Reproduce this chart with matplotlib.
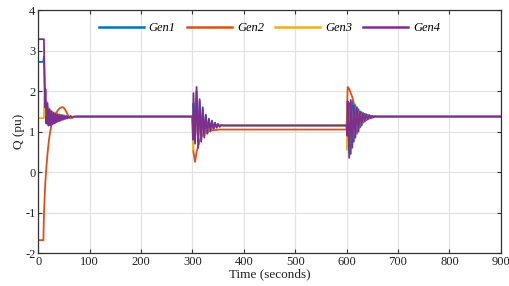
import matplotlib

matplotlib.use("Agg")
import matplotlib.pyplot as plt  # noqa: E402

# time points (s)
time_s = [
    0, 10, 11, 12, 13, 14, 16, 18, 20, 22, 24, 26, 28, 30, 32, 34, 36, 38, 40, 42,
    44, 46, 48, 50, 52, 54, 56, 58, 60, 63, 66, 70, 75, 80, 90,
    300, 301, 302, 305, 308, 311, 314, 317, 320, 323, 326, 329, 332, 335, 338,
    341, 344, 347, 350, 353, 356, 360, 370, 385,
    600, 601, 602, 605, 608, 611, 614, 617, 620, 623, 626, 629, 632, 635, 638,
    641, 644, 647, 650, 653, 656, 660, 670, 685, 900,
]

gen1 = [
    2.72, 2.72, 2.85, 2.4, 1.8, 1.45, 1.2, 1.6, 1.15, 1.55, 1.18, 1.5, 1.2, 1.47, 1.22, 1.45, 1.25, 1.43, 1.27, 1.42,
    1.29, 1.41, 1.31, 1.40, 1.32, 1.39, 1.33, 1.38, 1.34, 1.38, 1.35, 1.37, 1.37, 1.37, 1.37,
    1.37, 1.1, 1.7, 0.8, 2.0, 0.75, 1.75, 0.8, 1.6, 0.9, 1.42, 0.95, 1.32, 1.0, 1.27,
    1.06, 1.22, 1.1, 1.19, 1.12, 1.16, 1.15, 1.15, 1.15,
    1.15, 1.4, 0.6, 1.7, 0.45, 1.75, 0.75, 1.65, 0.95, 1.55, 1.1, 1.48, 1.22, 1.44, 1.28,
    1.41, 1.32, 1.39, 1.34, 1.38, 1.36, 1.37, 1.37, 1.37, 1.37,
]

gen2 = [
    -1.68, -1.68, -1.1, -0.75, -0.45, -0.2, 0.15, 0.45, 0.7, 0.9, 1.05, 1.18, 1.27, 1.33, 1.38, 1.43, 1.48, 1.52, 1.55, 1.58,
    1.59, 1.6, 1.6, 1.58, 1.55, 1.5, 1.45, 1.4, 1.36, 1.33, 1.34, 1.36, 1.37, 1.37, 1.37,
    1.37, 0.9, 0.5, 0.25, 0.5, 0.62, 0.78, 0.86, 0.92, 0.95, 0.98, 0.99, 1.01, 1.02, 1.03,
    1.03, 1.04, 1.04, 1.05, 1.05, 1.05, 1.05, 1.05, 1.05,
    1.05, 1.6, 2.1, 2.05, 1.95, 1.85, 1.7, 1.6, 1.52, 1.47, 1.44, 1.42, 1.4, 1.39, 1.38,
    1.38, 1.37, 1.37, 1.37, 1.37, 1.37, 1.37, 1.37, 1.37, 1.37,
]

gen3 = [
    1.33, 1.33, 1.33, 1.85, 1.9, 1.4, 1.75, 1.2, 1.6, 1.2, 1.52, 1.22, 1.48, 1.25, 1.45, 1.27, 1.43, 1.29, 1.42, 1.3,
    1.41, 1.31, 1.40, 1.32, 1.39, 1.33, 1.38, 1.34, 1.37, 1.35, 1.37, 1.36, 1.37, 1.37, 1.37,
    1.37, 0.55, 1.3, 0.85, 1.7, 0.8, 1.5, 0.85, 1.4, 0.92, 1.3, 0.98, 1.25, 1.03, 1.2,
    1.07, 1.18, 1.1, 1.17, 1.12, 1.15, 1.15, 1.15, 1.15,
    1.15, 0.55, 1.5, 0.65, 1.6, 0.8, 1.55, 0.95, 1.5, 1.05, 1.46, 1.15, 1.43, 1.23, 1.41,
    1.29, 1.39, 1.32, 1.38, 1.35, 1.37, 1.37, 1.37, 1.37, 1.37,
]

gen4 = [
    3.28, 3.28, 3.28, 2.6, 1.6, 2.05, 1.2, 1.7, 1.15, 1.55, 1.15, 1.5, 1.18, 1.46, 1.2, 1.44, 1.23, 1.42, 1.25, 1.41,
    1.27, 1.4, 1.29, 1.39, 1.31, 1.38, 1.32, 1.38, 1.34, 1.38, 1.35, 1.37, 1.37, 1.37, 1.37,
    1.37, 0.8, 1.95, 0.7, 2.1, 0.6, 1.8, 0.75, 1.55, 0.85, 1.4, 0.95, 1.3, 1.02, 1.25,
    1.07, 1.21, 1.1, 1.18, 1.12, 1.16, 1.15, 1.15, 1.15,
    1.15, 0.9, 1.75, 0.35, 1.78, 0.6, 1.65, 0.85, 1.6, 1.0, 1.5, 1.15, 1.46, 1.25, 1.43,
    1.3, 1.41, 1.33, 1.39, 1.35, 1.38, 1.37, 1.37, 1.37, 1.37,
]

series = [("Gen1", gen1), ("Gen2", gen2), ("Gen3", gen3), ("Gen4", gen4)]
colors = ["#0072BD", "#D95319", "#EDB120", "#7E2F8E"]

plt.rcParams["font.family"] = ["Liberation Serif", "DejaVu Serif"]
plt.rcParams["axes.unicode_minus"] = False

fig = plt.figure(figsize=(5.1, 2.86), dpi=100)
ax = fig.add_axes([0.075, 0.115, 0.907, 0.85])

for (name, vals), c in zip(series, colors):
    ax.plot(time_s, vals, color=c, lw=1.3, label=name)

ax.set_xlim(0, 900)
ax.set_ylim(-2, 4)
ax.set_xticks(range(0, 901, 100))
ax.set_yticks(range(-2, 5))
ax.grid(True, color="#e3e3e3", lw=0.9)
ax.set_axisbelow(True)
ax.tick_params(direction="in", top=True, right=True, labelsize=9, length=3,
               color="#333333", labelcolor="#222222", pad=2)
for sp in ax.spines.values():
    sp.set_color("#333333")
    sp.set_linewidth(0.9)

ax.set_xlabel("Time (seconds)", fontsize=9.5, labelpad=0, color="#222222")
ax.set_ylabel("Q (pu)", fontsize=9.5, labelpad=0, color="#222222")

leg = ax.legend(loc="upper center", bbox_to_anchor=(0.50, 0.995), ncol=4, frameon=False,
                handlelength=3.6, columnspacing=0.9, handletextpad=0.4,
                prop={"style": "italic", "size": 9})
for line in leg.get_lines():
    line.set_linewidth(1.8)

fig.savefig("out.png", dpi=100)
plt.close(fig)
